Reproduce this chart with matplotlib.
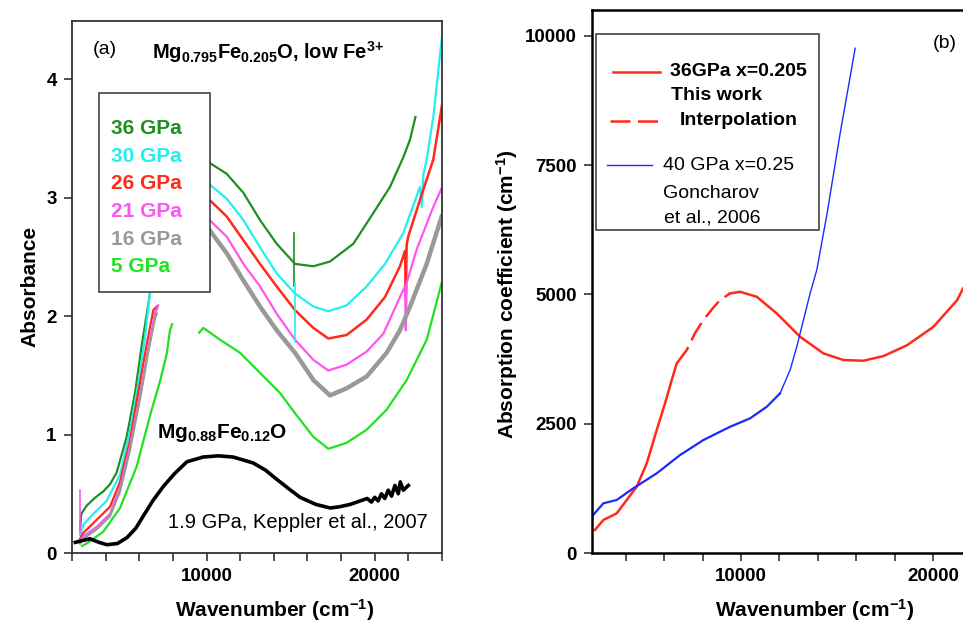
import matplotlib
matplotlib.use("Agg")
import matplotlib.pyplot as plt
import numpy as np

plt.rcParams['font.family'] = ['Liberation Sans', 'DejaVu Sans']
plt.rcParams['mathtext.fontset'] = 'custom'
plt.rcParams['mathtext.rm'] = 'Liberation Sans:bold'
plt.rcParams['mathtext.bf'] = 'Liberation Sans:bold'
plt.rcParams['mathtext.it'] = 'Liberation Sans:bold'

# ---------------- Panel (a) data ----------------
# low-wavenumber segments
x36_lo = [2480, 2550, 2874, 3400, 3863, 4260, 4657, 5250, 5746, 6143, 6540, 6640]
y36_lo = [0.20, 0.33, 0.40, 0.47, 0.52, 0.58, 0.68, 0.98, 1.35, 1.75, 2.10, 2.20]
x30_lo = [2480, 2674, 3268, 4063, 4855, 5450, 5944, 6340, 6640]
y30_lo = [0.15, 0.24, 0.33, 0.44, 0.66, 1.03, 1.43, 1.82, 2.20]
x26_lo = [2480, 2674, 3466, 4260, 4855, 5450, 5944, 6440, 6836, 7036]
y26_lo = [0.12, 0.17, 0.28, 0.39, 0.60, 0.95, 1.36, 1.76, 2.05, 2.08]
x21_lo = [2480, 2674, 3466, 4260, 4855, 5450, 6043, 6540, 6936, 7130]
y21_lo = [0.10, 0.14, 0.22, 0.33, 0.55, 0.90, 1.33, 1.73, 2.02, 2.09]
x16_lo = [2480, 2674, 3466, 4260, 4855, 5450, 6043, 6540, 6936, 7050]
y16_lo = [0.08, 0.12, 0.20, 0.31, 0.52, 0.87, 1.30, 1.70, 1.98, 2.02]
x5_lo = [2600, 2874, 3863, 4855, 5845, 6640, 7234, 7630, 7828, 7950]
y5_lo = [0.06, 0.08, 0.18, 0.38, 0.73, 1.16, 1.45, 1.68, 1.88, 1.93]

# high-wavenumber segments
x36_hi = [10000, 10105, 11200, 12190, 13180, 14170, 15260, 16350, 17340, 18730, 19920, 20910, 21700, 22100, 22420]
y36_hi = [3.31, 3.30, 3.20, 3.04, 2.81, 2.61, 2.44, 2.42, 2.46, 2.61, 2.87, 3.09, 3.34, 3.49, 3.68]
x30_hi = [10000, 10105, 11200, 12190, 13180, 14170, 15260, 16350, 17240, 18330, 19520, 20610, 21700, 22690,
          22800, 22900, 23090, 23500, 24000]
y30_hi = [3.13, 3.12, 2.99, 2.81, 2.58, 2.36, 2.19, 2.08, 2.04, 2.09, 2.25, 2.44, 2.70, 3.09, 2.92, 3.20,
          3.32, 3.70, 4.36]
x26_hi = [10000, 10105, 11200, 12190, 13180, 14170, 15260, 16350, 17240, 18330, 19520, 20610, 21500, 21800,
          21850, 21900, 21990, 22690, 23480, 24000]
y26_hi = [3.00, 2.99, 2.84, 2.64, 2.44, 2.25, 2.05, 1.90, 1.81, 1.84, 1.97, 2.16, 2.42, 2.55, 2.19, 2.60,
          2.67, 2.98, 3.32, 3.78]
x21_hi = [10000, 10105, 11200, 12190, 13180, 14170, 15260, 16350, 17240, 18330, 19520, 20510, 21500, 21800,
          21850, 21900, 22490, 23480, 23980]
y21_hi = [2.84, 2.82, 2.67, 2.44, 2.25, 2.02, 1.80, 1.63, 1.54, 1.59, 1.70, 1.85, 2.16, 2.25, 1.88, 2.28,
          2.56, 2.92, 3.08]
x16_hi = [10000, 10105, 11200, 12190, 13180, 14170, 15260, 16350, 17340, 18330, 19520, 20710, 21500, 22100,
          23090, 23980]
y16_hi = [2.75, 2.74, 2.53, 2.30, 2.08, 1.88, 1.69, 1.46, 1.33, 1.39, 1.49, 1.69, 1.88, 2.08, 2.44, 2.84]
x5_hi = [9560, 9810, 10800, 11990, 13180, 14370, 15260, 16350, 17240, 18330, 19520, 20710, 21900, 23090,
         23980, 24000]
y5_hi = [1.86, 1.90, 1.80, 1.69, 1.52, 1.35, 1.18, 0.98, 0.88, 0.93, 1.04, 1.21, 1.46, 1.80, 2.28, 2.29]

# sharp spikes (artifacts) in the spectra
spike36_x = [15200, 15200]
spike36_y = [2.70, 2.25]
spike30_x = [15260, 15260]
spike30_y = [2.28, 1.78]
spike21_x = [2480, 2480]
spike21_y = [0.17, 0.53]

# Keppler et al. 2007, Mg0.88Fe0.12O
xk = [2200, 2480, 3070, 3600, 4080, 4700, 5270, 5800, 6230, 6800, 7420, 8100, 8830, 9800, 10700, 11580, 12770,
      13500, 14190, 15000, 15560, 16500, 17350, 17900, 18540, 19550, 19800, 20000, 20200, 20400, 20600, 20800,
      21000, 21200, 21400, 21520, 21700, 22000]
yk = [0.09, 0.10, 0.12, 0.09, 0.07, 0.08, 0.13, 0.21, 0.31, 0.44, 0.56, 0.67, 0.77, 0.81, 0.82, 0.81, 0.76,
      0.70, 0.62, 0.53, 0.47, 0.41, 0.38, 0.39, 0.41, 0.46, 0.43, 0.47, 0.44, 0.50, 0.46, 0.53, 0.48, 0.57,
      0.50, 0.60, 0.53, 0.57]

pressures = ['36 GPa', '30 GPa', '26 GPa', '21 GPa', '16 GPa', '5 GPa']
colors_a = ['#1f8f1f', '#22f0f0', '#ff2a1a', '#ff55f0', '#999999', '#22e022']

# ---------------- Panel (b) data ----------------
xr_lo = [2396, 2830, 3527, 4047, 4568, 5089, 5610, 6042, 6390, 6651]
yr_lo = [445, 638, 767, 1025, 1282, 1734, 2378, 2894, 3344, 3667]
xr_int = [6651, 7172, 7600, 8037, 8500, 8906, 9427]
yr_int = [3667, 3924, 4250, 4504, 4720, 4891, 5020]
xr_hi = [9427, 9948, 10817, 11859, 13073, 14288, 15330, 16372, 17414, 18650, 20000, 21250, 21560, 22000]
yr_hi = [5020, 5051, 4955, 4633, 4181, 3860, 3731, 3718, 3808, 4020, 4370, 4890, 5120, 5300]
xb = [2225, 2830, 3527, 4390, 5610, 6823, 8037, 9427, 10469, 11338, 12031, 12552, 12900, 13247, 13594, 13941,
      14480, 15160, 15940]
yb = [702, 961, 1025, 1251, 1541, 1894, 2184, 2441, 2604, 2828, 3087, 3537, 3988, 4504, 5020, 5471,
      6570, 8120, 9760]

W, H = 963, 622
fig = plt.figure(figsize=(W / 100, H / 100), dpi=100)

def frac(l, b, r, t):
    return [l / W, 1 - b / H, (r - l) / W, (b - t) / H]

TICK_FS = 13.5

# ---------- Panel (a) ----------
ax = fig.add_axes(frac(72, 553, 442, 21))
lows = [(x36_lo, y36_lo), (x30_lo, y30_lo), (x26_lo, y26_lo), (x21_lo, y21_lo), (x16_lo, y16_lo), (x5_lo, y5_lo)]
highs = [(x36_hi, y36_hi), (x30_hi, y30_hi), (x26_hi, y26_hi), (x21_hi, y21_hi), (x16_hi, y16_hi), (x5_hi, y5_hi)]
lw_hi = [1.6, 1.6, 1.8, 1.6, 3.2, 1.6]
for i in [5, 4, 3, 2, 1, 0]:
    ax.plot(*lows[i], color=colors_a[i], lw=1.6, zorder=2 + i * 0.1)
    ax.plot(*highs[i], color=colors_a[i], lw=lw_hi[i], zorder=2 + i * 0.1)
ax.plot(spike36_x, spike36_y, color=colors_a[0], lw=1.2, zorder=3)
ax.plot(spike30_x, spike30_y, color=colors_a[1], lw=1.2, zorder=3)
ax.plot(spike21_x, spike21_y, color=colors_a[3], lw=1.2, zorder=3)
ax.plot(xk, yk, color='black', lw=2.6, zorder=3)

ax.set_xlim(2000, 24000)
ax.set_ylim(0, 4.49)
ax.set_xticks([10000, 20000])
ax.set_xticks(np.arange(2000, 24001, 2000), minor=True)
ax.set_yticks([0, 1, 2, 3, 4])
ax.tick_params(axis='both', which='both', direction='out', length=6, width=1.2, colors='#333333',
               labelcolor='black', labelsize=TICK_FS, pad=5)
for lab in ax.get_xticklabels() + ax.get_yticklabels():
    lab.set_fontweight('bold')
for s in ax.spines.values():
    s.set_linewidth(1.3)
    s.set_color('#333333')

# legend box
leg_box = plt.Rectangle((99 / W, 1 - 292 / H), (210 - 99) / W, (292 - 93) / H, transform=fig.transFigure,
                        facecolor='white', edgecolor='#333333', lw=1.1, zorder=5)
fig.add_artist(leg_box)
for k, (lab, c) in enumerate(zip(pressures, colors_a)):
    fig.text(111 / W, 1 - (129 + 27.5 * k) / H, lab, color=c, fontsize=15, fontweight='bold',
             va='center', ha='left', zorder=6)

fig.text(93 / W, 1 - 50 / H, '(a)', fontsize=14, va='center', ha='left')
fig.text(152 / W, 1 - 52 / H, r'Mg$_{0.795}$Fe$_{0.205}$O, low Fe$^{\text{3+}}$', fontsize=14.5,
         fontweight='bold', va='center', ha='left')
fig.text(157 / W, 1 - 433 / H, r'Mg$_{0.88}$Fe$_{0.12}$O', fontsize=15, fontweight='bold',
         va='center', ha='left')
fig.text(168 / W, 1 - 522 / H, '1.9 GPa, Keppler et al., 2007', fontsize=14.5,
         va='center', ha='left')

fig.text(30 / W, 1 - 286 / H, 'Absorbance', rotation=90, fontsize=15, fontweight='bold',
         va='center', ha='center')
fig.text(275 / W, 1 - 610 / H, r'Wavenumber (cm$^{-1}$)', fontsize=15, fontweight='bold',
         va='center', ha='center')

# ---------- Panel (b) ----------
DASH = (8, 3)
bx = fig.add_axes(frac(592, 553, 1010, 10))
bx.plot(xr_lo, yr_lo, color='#ff2a1a', lw=1.8)
bx.plot(xr_int, yr_int, color='#ff2a1a', lw=1.8, dashes=DASH)
bx.plot(xr_hi, yr_hi, color='#ff2a1a', lw=1.8)
bx.plot(xb[:11], yb[:11], color='#1a2aff', lw=1.6)
bx.plot(xb[10:], yb[10:], color='#1a2aff', lw=1.0)
bx.set_xlim(2240, 24000)
bx.set_ylim(0, 10500)
bx.set_xticks([10000, 20000])
bx.set_xticks(np.arange(4000, 24001, 2000), minor=True)
bx.set_yticks([0, 2500, 5000, 7500, 10000])
bx.tick_params(axis='both', which='both', direction='out', length=6, width=1.2, colors='#333333',
               labelcolor='black', labelsize=TICK_FS, pad=5)
for lab in bx.get_xticklabels() + bx.get_yticklabels():
    lab.set_fontweight('bold')
bx.spines['right'].set_visible(False)
for s in ['left', 'top', 'bottom']:
    bx.spines[s].set_linewidth(1.8)
    bx.spines[s].set_color('black')

leg_b = plt.Rectangle((596 / W, 1 - 230 / H), (819 - 596) / W, (230 - 34) / H, transform=fig.transFigure,
                      facecolor='white', edgecolor='#333333', lw=1.1, zorder=5)
fig.add_artist(leg_b)
fig.add_artist(plt.Line2D([613 / W, 660 / W], [1 - 72 / H, 1 - 72 / H], color='#ff2a1a', lw=1.8, zorder=6))
fig.add_artist(plt.Line2D([610 / W, 659 / W], [1 - 121 / H, 1 - 121 / H], color='#ff2a1a', lw=1.8,
                          dashes=DASH, zorder=6))
fig.add_artist(plt.Line2D([607 / W, 652 / W], [1 - 165 / H, 1 - 165 / H], color='#1a2aff', lw=1.0, zorder=6))
fig.text(670 / W, 1 - 72 / H, '36GPa x=0.205', fontsize=14, fontweight='bold', va='center', zorder=6)
fig.text(671 / W, 1 - 95 / H, 'This work', fontsize=14, fontweight='bold', va='center', zorder=6)
fig.text(680 / W, 1 - 121 / H, 'Interpolation', fontsize=14, fontweight='bold', va='center', zorder=6)
fig.text(663 / W, 1 - 165 / H, '40 GPa x=0.25', fontsize=14, va='center', zorder=6)
fig.text(663 / W, 1 - 193 / H, 'Goncharov', fontsize=14, va='center', zorder=6)
fig.text(664 / W, 1 - 218 / H, 'et al., 2006', fontsize=14, va='center', zorder=6)
fig.text(933 / W, 1 - 43 / H, '(b)', fontsize=14, va='center', ha='left')

fig.text(507 / W, 1 - 294 / H, r'Absorption coefficient (cm$^{-1}$)', rotation=90, fontsize=15,
         fontweight='bold', va='center', ha='center')
fig.text(815 / W, 1 - 610 / H, r'Wavenumber (cm$^{-1}$)', fontsize=15, fontweight='bold',
         va='center', ha='center')

fig.savefig('out.png', dpi=100)
